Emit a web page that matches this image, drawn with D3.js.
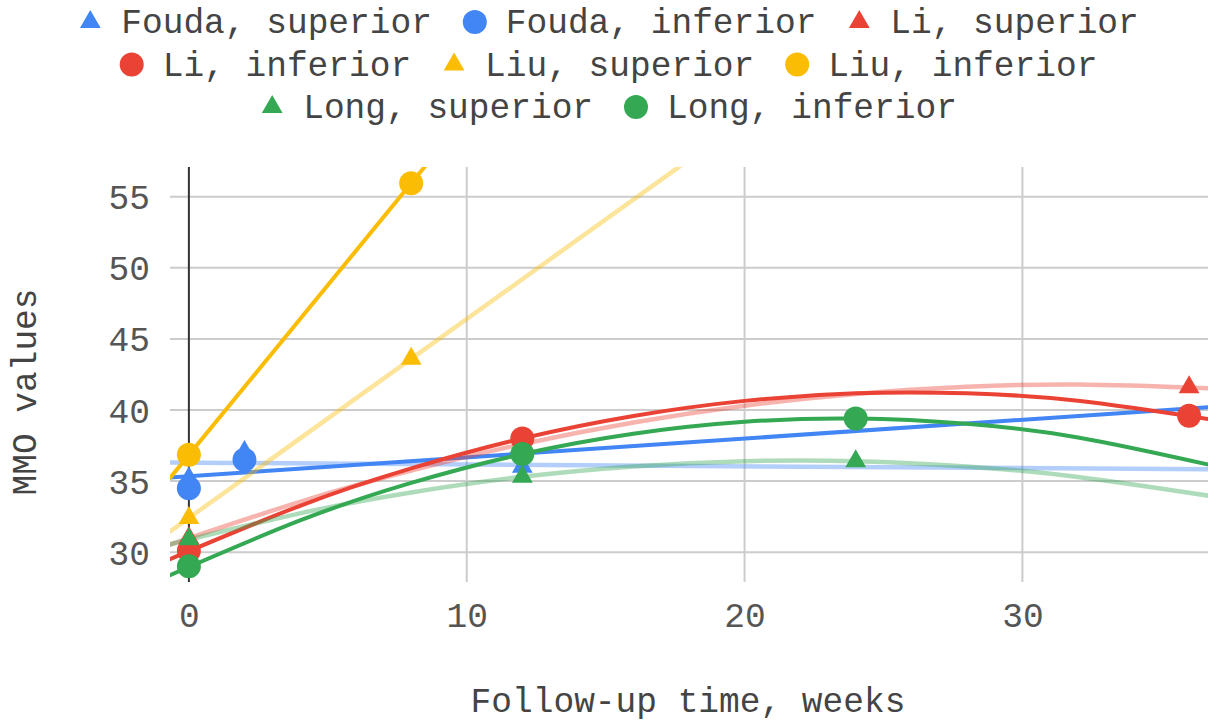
<!DOCTYPE html>
<html>
<head>
<meta charset="utf-8">
<script src="https://cdnjs.cloudflare.com/ajax/libs/d3/7.8.5/d3.min.js"></script>
<style>
  body { margin: 0; background: #fff; }
  svg text { font-family: "Courier New", "Liberation Mono", monospace; }
</style>
</head>
<body>
<div id="chart"></div>
<script>
// series, in the order the chart draws them
var seriesNames = ["Fouda, superior", "Fouda, inferior", "Li, superior", "Li, inferior",
                   "Liu, superior", "Liu, inferior", "Long, superior", "Long, inferior"];
var seriesColors = ["#4285F4", "#4285F4", "#EA4335", "#EA4335",
                    "#FBBC04", "#FBBC04", "#34A853", "#34A853"];
var seriesShapes = ["triangle", "circle", "triangle", "circle",
                    "triangle", "circle", "triangle", "circle"];

// measured points (weeks, MMO)
var foudaSupX = [0, 2, 12],  foudaSupY = [35.2, 37.05, 36.0];
var foudaInfX = [0, 2],      foudaInfY = [34.5, 36.5];
var liSupX = [0, 12, 36],    liSupY = [31.0, 37.6, 41.6];
var liInfX = [0, 12, 36],    liInfY = [30.1, 38.0, 39.6];
var liuSupX = [0, 8],        liuSupY = [32.4, 43.6];
var liuInfX = [0, 8],        liuInfY = [36.85, 55.95];
var longSupX = [0, 12, 24],  longSupY = [30.9, 35.3, 36.4];
var longInfX = [0, 12, 24],  longInfY = [29.0, 36.9, 39.4];

// trendlines
var curveX = [-0.7, 4, 8, 12, 16, 20, 24, 28, 32, 36.7];
var liSupTrend  = [30.52, 33.54, 35.74, 37.6, 39.12, 40.30, 41.13, 41.63, 41.79, 41.53];
var liInfTrend  = [29.49, 33.26, 35.89, 38.0, 39.58, 40.64, 41.17, 41.17, 40.65, 39.36];
var longSupTrend = [30.54, 32.73, 34.20, 35.3, 36.03, 36.40, 36.40, 36.03, 35.29, 33.97];
var longInfTrend = [28.37, 32.23, 34.87, 36.9, 38.33, 39.17, 39.4, 39.03, 38.07, 36.16];
var foudaTrendX = [-0.7, 36.7];
var foudaSupTrend = [36.3, 35.83];
var foudaInfTrend = [35.25, 40.2];
var liuSupTrendX = [-0.7, 18], liuSupTrend = [31.42, 57.6];
var liuInfTrendX = [-0.7, 9],  liuInfTrend = [35.17, 58.33];

var xTicks = [0, 10, 20, 30];
var yTicks = [30, 35, 40, 45, 50, 55];
var xTitle = "Follow-up time, weeks";
var yTitle = "MMO values";

var pointsX = [foudaSupX, foudaInfX, liSupX, liInfX, liuSupX, liuInfX, longSupX, longInfX];
var pointsY = [foudaSupY, foudaInfY, liSupY, liInfY, liuSupY, liuInfY, longSupY, longInfY];
var trendsX = [foudaTrendX, foudaTrendX, curveX, curveX, liuSupTrendX, liuInfTrendX, curveX, curveX];
var trendsY = [foudaSupTrend, foudaInfTrend, liSupTrend, liInfTrend, liuSupTrend, liuInfTrend, longSupTrend, longInfTrend];

var width = 1208, height = 722;
var plot = { left: 170, right: 1208, top: 167, bottom: 582 };
var fontSize = 34.5;

var svg = d3.select("#chart").append("svg")
    .attr("width", width)
    .attr("height", height);

var x = d3.scaleLinear().domain([-0.68, 36.68]).range([plot.left, plot.right]);
var y = d3.scaleLinear().domain([27.9, 57.09]).range([plot.bottom, plot.top]);

svg.append("clipPath").attr("id", "plotClip")
    .append("rect")
    .attr("x", plot.left).attr("y", plot.top)
    .attr("width", plot.right - plot.left)
    .attr("height", plot.bottom - plot.top);

// grid
var grid = svg.append("g");
grid.selectAll("line.h").data(yTicks).enter().append("line")
    .attr("x1", plot.left).attr("x2", plot.right)
    .attr("y1", function (d) { return y(d); })
    .attr("y2", function (d) { return y(d); })
    .attr("stroke", "#cccccc").attr("stroke-width", 2);
grid.selectAll("line.v").data(xTicks.filter(function (d) { return d !== 0; })).enter().append("line")
    .attr("x1", function (d) { return x(d); })
    .attr("x2", function (d) { return x(d); })
    .attr("y1", plot.top).attr("y2", plot.bottom)
    .attr("stroke", "#cccccc").attr("stroke-width", 2);
grid.append("line")
    .attr("x1", x(0)).attr("x2", x(0))
    .attr("y1", plot.top).attr("y2", plot.bottom)
    .attr("stroke", "#333333").attr("stroke-width", 2);

// axes text
var yAxis = d3.axisLeft(y).tickValues(yTicks).tickSize(0).tickPadding(0);
svg.append("g")
    .attr("transform", "translate(150,0)")
    .call(yAxis)
    .call(function (g) { g.select(".domain").remove(); })
    .selectAll("text")
    .attr("x", 0).attr("dy", "0.35em")
    .attr("font-size", fontSize)
    .attr("font-family", "'Courier New', 'Liberation Mono', monospace")
    .attr("fill", "#555555");

var xAxis = d3.axisBottom(x).tickValues(xTicks).tickSize(0).tickPadding(0);
svg.append("g")
    .attr("transform", "translate(0,627)")
    .call(xAxis)
    .call(function (g) { g.select(".domain").remove(); })
    .selectAll("text")
    .attr("y", 0).attr("dy", 0)
    .attr("font-size", fontSize)
    .attr("font-family", "'Courier New', 'Liberation Mono', monospace")
    .attr("fill", "#555555");

svg.append("text")
    .attr("x", 688).attr("y", 712)
    .attr("text-anchor", "middle")
    .attr("font-size", fontSize)
    .attr("fill", "#444444")
    .text(xTitle);

svg.append("text")
    .attr("transform", "translate(36,392) rotate(-90)")
    .attr("text-anchor", "middle")
    .attr("font-size", fontSize)
    .attr("fill", "#444444")
    .text(yTitle);

// trendlines
var line = d3.line()
    .x(function (d) { return x(d[0]); })
    .y(function (d) { return y(d[1]); })
    .curve(d3.curveNatural);

var trendLayer = svg.append("g").attr("clip-path", "url(#plotClip)");
seriesNames.forEach(function (name, i) {
    var pts = trendsX[i].map(function (v, j) { return [v, trendsY[i][j]]; });
    trendLayer.append("path")
        .attr("d", line(pts))
        .attr("fill", "none")
        .attr("stroke", seriesColors[i])
        .attr("stroke-width", seriesShapes[i] === "triangle" ? 4.5 : 4)
        .attr("stroke-opacity", seriesShapes[i] === "triangle" ? 0.4 : 1);
});

// markers
var triangle = d3.symbol().type(d3.symbolTriangle).size(187);
var dot = d3.symbol().type(d3.symbolCircle).size(Math.PI * 144);

var pointLayer = svg.append("g");
seriesNames.forEach(function (name, i) {
    var pts = pointsX[i].map(function (v, j) { return [v, pointsY[i][j]]; });
    pointLayer.append("g").selectAll("path")
        .data(pts)
        .enter()
        .append("path")
        .attr("d", seriesShapes[i] === "triangle" ? triangle() : dot())
        .attr("transform", function (d) { return "translate(" + x(d[0]) + "," + y(d[1]) + ")"; })
        .attr("fill", seriesColors[i]);
});

// legend, wrapped into centred rows
var charW = fontSize * 0.6;
var rows = [], row = [], rowW = 0, maxRow = 1100;
seriesNames.forEach(function (name, i) {
    var w = 12 + 31 + name.length * charW;
    var add = row.length ? 43 + w - 12 : w;
    if (row.length && rowW + add > maxRow) {
        rows.push({ items: row, w: rowW });
        row = []; rowW = 0; add = w;
    }
    row.push(i);
    rowW += add;
});
rows.push({ items: row, w: rowW });

var legend = svg.append("g");
rows.forEach(function (r, ri) {
    var base = 33 + ri * 42.5;
    var cx = 608.5 - r.w / 2 + 12;
    r.items.forEach(function (i) {
        legend.append("path")
            .attr("d", seriesShapes[i] === "triangle" ? triangle() : dot())
            .attr("transform", "translate(" + cx + "," + (base - 11) + ")")
            .attr("fill", seriesColors[i]);
        legend.append("text")
            .attr("x", cx + 31).attr("y", base)
            .attr("font-size", fontSize)
            .attr("fill", "#444444")
            .text(seriesNames[i]);
        cx += 31 + seriesNames[i].length * charW + 43;
    });
});
</script>
</body>
</html>
